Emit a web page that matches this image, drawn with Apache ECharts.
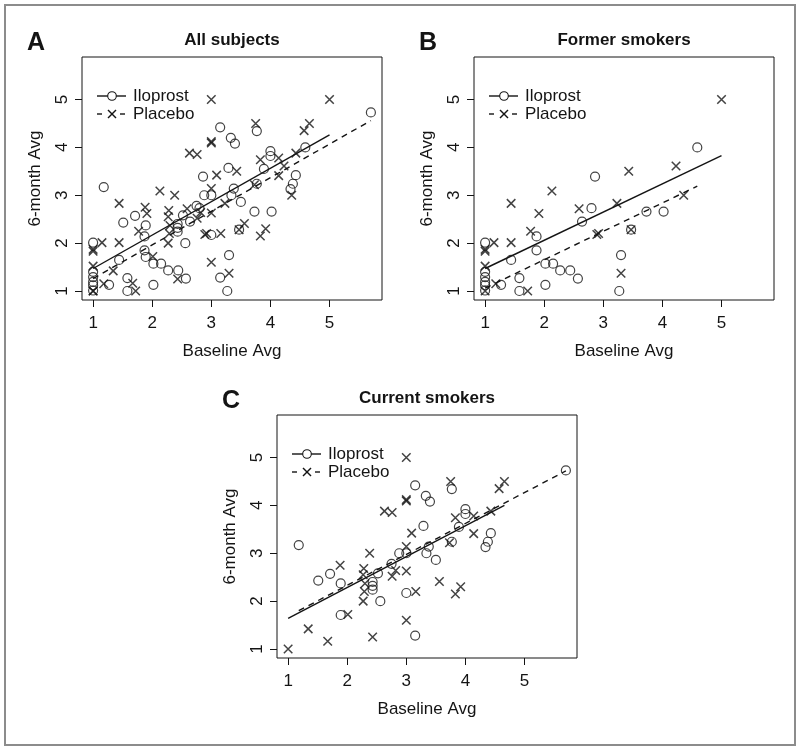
<!DOCTYPE html>
<html>
<head>
<meta charset="utf-8">
<script src="https://cdn.jsdelivr.net/npm/echarts@6/dist/echarts.min.js"></script>
<style>html,body{margin:0;padding:0;background:#fff}#c{width:800px;height:751px}</style>
</head>
<body>
<div id="c"></div>
<script>
// ---------- data ----------
const tickValues = [1, 2, 3, 4, 5];

const formerIloprost = [
  [1,2.01],[1,1.40],[1,1.29],[1,1.19],[1,1.12],[1,1.01],[1.27,1.13],[1.44,1.65],[1.58,1.27],[1.58,1.0],
  [1.87,2.14],[1.87,1.85],[2.02,1.57],[2.02,1.13],[2.15,1.57],[2.27,1.43],[2.44,1.43],[2.57,1.26],
  [2.64,2.45],[2.80,2.73],[2.86,3.39],[3.30,1.75],[3.27,1.0],[3.47,2.28],[3.73,2.66],[4.02,2.66],[4.59,4.0]
];
const formerPlacebo = [
  [1,1.87],[1,1.83],[1,1.52],[1,1.0],[1.15,2.01],[1.18,1.15],[1.44,2.83],[1.44,2.01],[1.72,1.0],[1.77,2.25],
  [1.91,2.62],[2.13,3.09],[2.59,2.72],[2.89,2.18],[2.92,2.20],[3.23,2.83],[3.30,1.37],[3.43,3.5],[3.47,2.28],
  [4.23,3.61],[4.36,3.0],[5.0,5.0]
];
const currentIloprost = [
  [1.18,3.17],[1.51,2.43],[1.71,2.57],[1.89,2.37],[1.89,1.71],[2.56,2.0],[2.43,2.40],[2.43,2.32],[2.43,2.24],
  [2.52,2.58],[2.75,2.78],[2.88,3.0],[3.0,3.0],[3.0,2.17],[3.15,1.28],[3.15,4.42],[3.33,4.20],[3.40,4.08],
  [3.29,3.57],[3.38,3.14],[3.34,3.0],[3.50,2.86],[3.77,4.34],[3.77,3.24],[3.89,3.55],[4.0,3.92],[4.0,3.82],
  [4.34,3.13],[4.38,3.24],[4.43,3.42],[5.7,4.73]
];
const currentPlacebo = [
  [1.0,1.0],[1.34,1.42],[1.67,1.16],[1.88,2.75],[2.01,1.72],[2.28,2.68],[2.27,2.55],[2.30,2.37],[2.29,2.20],
  [2.27,2.0],[2.38,3.0],[2.43,1.25],[2.63,3.88],[2.76,3.85],[2.76,2.52],[2.82,2.64],[3.0,5.0],[3.0,4.09],
  [3.0,4.12],[3.0,3.14],[3.0,2.63],[3.0,1.6],[3.09,3.42],[3.16,2.2],[3.56,2.41],[3.73,3.22],[3.75,4.5],
  [3.83,3.74],[3.83,2.15],[3.92,2.3],[4.14,3.41],[4.14,3.78],[4.43,3.88],[4.57,4.35],[4.66,4.5]
];
const allIloprost = formerIloprost.concat(currentIloprost);
const allPlacebo = formerPlacebo.concat(currentPlacebo);

const fitAllIloprost = [[1,1.47],[5,4.26]];
const fitAllPlacebo = [[1,1.26],[5.7,4.56]];
const fitFormerIloprost = [[1,1.47],[5,3.83]];
const fitFormerPlacebo = [[1,1.06],[4.59,3.19]];
const fitCurrentIloprost = [[1,1.64],[4.66,4.0]];
const fitCurrentPlacebo = [[1.18,1.80],[5.7,4.72]];

const panelLetters = ['A', 'B', 'C'];
const panelTitles = ['All subjects', 'Former smokers', 'Current smokers'];
const seriesNames = ['Iloprost', 'Placebo'];
const xTitle = 'Baseline Avg';
const yTitle = '6-month Avg';

// ---------- layout / style ----------
const FONT = '"Liberation Sans", Arial, Helvetica, sans-serif';
const INK = '#141414';
const axisRange = [0.812, 5.888];
const grids = [
  {left: 82, top: 57, width: 300, height: 243},
  {left: 474, top: 57, width: 300, height: 243},
  {left: 277, top: 415, width: 300, height: 243}
];
const panelData = [
  [allIloprost, allPlacebo, fitAllIloprost, fitAllPlacebo],
  [formerIloprost, formerPlacebo, fitFormerIloprost, fitFormerPlacebo],
  [currentIloprost, currentPlacebo, fitCurrentIloprost, fitCurrentPlacebo]
];
const crossPath = 'path://M0,0L10,10M10,0L0,10';

const xAxes = [], yAxes = [], series = [], graphics = [];
grids.forEach((g, i) => {
  xAxes.push({
    gridIndex: i, type: 'value', min: axisRange[0], max: axisRange[1],
    axisLine: {show: false},
    axisTick: {show: true, inside: false, length: 7, customValues: tickValues, lineStyle: {color: INK, width: 1}},
    axisLabel: {customValues: tickValues, fontSize: 17, color: INK, fontFamily: FONT, margin: 15},
    splitLine: {show: false},
    name: xTitle, nameLocation: 'middle', nameGap: 43,
    nameTextStyle: {fontSize: 17, color: INK, fontFamily: FONT}
  });
  yAxes.push({
    gridIndex: i, type: 'value', min: axisRange[0], max: axisRange[1],
    axisLine: {show: false},
    axisTick: {show: true, inside: false, length: 7, customValues: tickValues, lineStyle: {color: INK, width: 1}},
    axisLabel: {customValues: tickValues, fontSize: 17, color: INK, fontFamily: FONT, rotate: 90, margin: 11},
    splitLine: {show: false},
    name: yTitle, nameLocation: 'middle', nameGap: 38, nameRotate: 90,
    nameTextStyle: {fontSize: 17, color: INK, fontFamily: FONT}
  });
  const [ilo, pla, fitI, fitP] = panelData[i];
  series.push({
    type: 'scatter', name: seriesNames[0], xAxisIndex: i, yAxisIndex: i, data: ilo,
    symbol: 'circle', symbolSize: 9,
    itemStyle: {color: 'rgba(0,0,0,0)', borderColor: INK, borderWidth: 1.2}
  });
  series.push({
    type: 'scatter', name: seriesNames[1], xAxisIndex: i, yAxisIndex: i, data: pla,
    symbol: crossPath, symbolSize: 8.5,
    itemStyle: {color: 'rgba(0,0,0,0)', borderColor: INK, borderWidth: 1.5}
  });
  series.push({
    type: 'line', xAxisIndex: i, yAxisIndex: i, data: fitI, symbol: 'none', silent: true,
    lineStyle: {color: INK, width: 1.4, type: 'solid'}
  });
  series.push({
    type: 'line', xAxisIndex: i, yAxisIndex: i, data: fitP, symbol: 'none', silent: true,
    lineStyle: {color: INK, width: 1.4, type: [6, 5]}
  });

  // titles and letters
  graphics.push({type: 'text', x: g.left + g.width / 2, y: g.top - 17,
    style: {text: panelTitles[i], font: 'bold 17px ' + FONT, fill: INK, textAlign: 'center', textVerticalAlign: 'middle'}});
  graphics.push({type: 'text', x: g.left - 55, y: g.top - 14,
    style: {text: panelLetters[i], font: 'bold 25px ' + FONT, fill: INK, textAlign: 'left', textVerticalAlign: 'middle'}});

  // legend
  const lx = g.left, r1 = g.top + 39, r2 = g.top + 57;
  graphics.push({type: 'line', shape: {x1: lx + 15, y1: r1, x2: lx + 44, y2: r1}, style: {stroke: INK, lineWidth: 1.4}});
  graphics.push({type: 'circle', shape: {cx: lx + 30, cy: r1, r: 4.3}, style: {fill: '#fff', stroke: INK, lineWidth: 1.1}});
  graphics.push({type: 'text', x: lx + 51, y: r1, style: {text: seriesNames[0], font: '17px ' + FONT, fill: INK, textVerticalAlign: 'middle'}});
  graphics.push({type: 'line', shape: {x1: lx + 15, y1: r2, x2: lx + 20, y2: r2}, style: {stroke: INK, lineWidth: 1.4}});
  graphics.push({type: 'line', shape: {x1: lx + 38, y1: r2, x2: lx + 43, y2: r2}, style: {stroke: INK, lineWidth: 1.4}});
  graphics.push({type: 'line', shape: {x1: lx + 26, y1: r2 - 4, x2: lx + 34, y2: r2 + 4}, style: {stroke: INK, lineWidth: 1.5}});
  graphics.push({type: 'line', shape: {x1: lx + 26, y1: r2 + 4, x2: lx + 34, y2: r2 - 4}, style: {stroke: INK, lineWidth: 1.5}});
  graphics.push({type: 'text', x: lx + 51, y: r2, style: {text: seriesNames[1], font: '17px ' + FONT, fill: INK, textVerticalAlign: 'middle'}});
});

graphics.push({type: 'rect', shape: {x: 5, y: 5, width: 790, height: 740}, z: -1,
  style: {fill: 'none', stroke: '#8c8c8c', lineWidth: 2}});

const chart = echarts.init(document.getElementById('c'), null, {renderer: 'canvas'});
chart.setOption({
  animation: false,
  backgroundColor: '#fff',
  grid: grids.map(g => Object.assign({show: true, borderColor: INK, borderWidth: 1, backgroundColor: 'rgba(0,0,0,0)', containLabel: false}, g)),
  xAxis: xAxes,
  yAxis: yAxes,
  series: series,
  graphic: graphics
});
</script>
</body>
</html>
